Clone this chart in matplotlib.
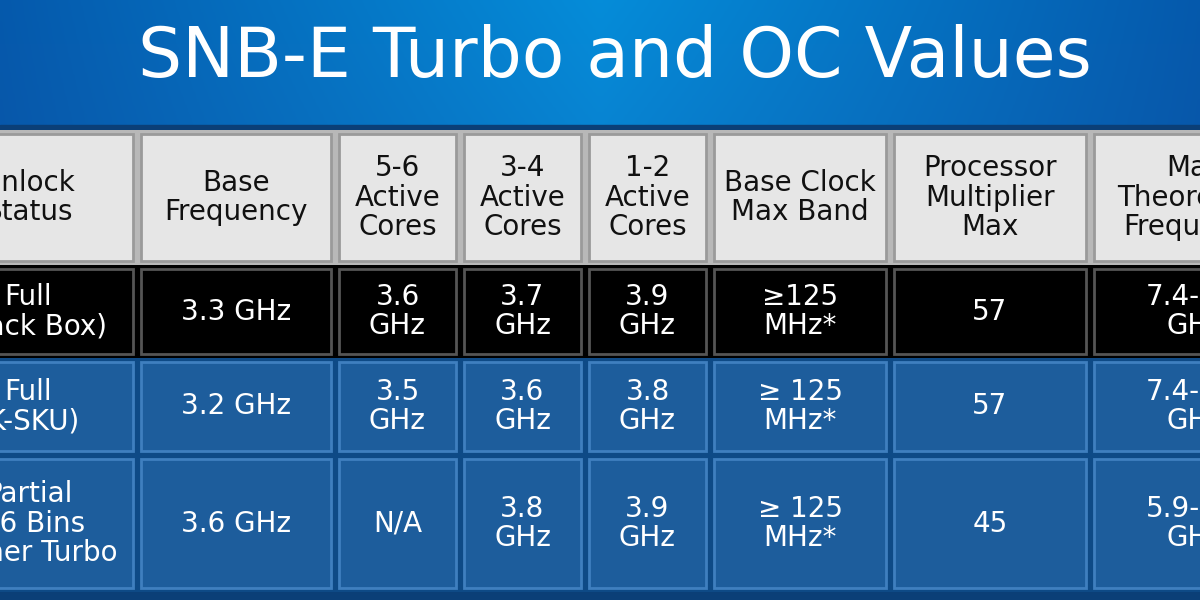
import matplotlib.pyplot as plt
import numpy as np

title = "SNB-E Turbo and OC Values"
headers = ["Unlock\nStatus", "Base\nFrequency", "5-6\nActive\nCores", "3-4\nActive\nCores",
           "1-2\nActive\nCores", "Base Clock\nMax Band", "Processor\nMultiplier\nMax",
           "Max\nTheoretical\nFrequency"]
rows = [
    ["Full\n(Black Box)", "3.3 GHz", "3.6\nGHz", "3.7\nGHz", "3.9\nGHz", "≥125\nMHz*", "57", "7.4-9.3\nGHz"],
    ["Full\n(K-SKU)", "3.2 GHz", "3.5\nGHz", "3.6\nGHz", "3.8\nGHz", "≥ 125\nMHz*", "57", "7.4-9.3\nGHz"],
    ["Partial\n4-6 Bins\nHigher Turbo", "3.6 GHz", "N/A", "3.8\nGHz", "3.9\nGHz", "≥ 125\nMHz*", "45", "5.9-7.4\nGHz"],
]
col_edges = [-80, 137, 335, 460, 585, 710, 890, 1090, 1300]
row_edges = [130, 265, 358, 455, 592]
row_colors = ["#000000", "#1d5d9c", "#1d5d9c"]

fig = plt.figure(figsize=(12, 6), dpi=100)
ax = fig.add_axes([0, 0, 1, 1])
ax.set_xlim(0, 1200)
ax.set_ylim(600, 0)
ax.axis("off")

# background gradient
gy = np.linspace(0, 1, 200)[:, None]
gx = np.linspace(0, 1, 300)[None, :]
r = 0.02 + 0.05 * gy
g = 0.30 + 0.25 * (1 - np.abs(gx - 0.5) * 1.6) * (1 - gy * 0.6)
b = 0.60 + 0.25 * (1 - np.abs(gx - 0.5) * 1.4) * (1 - gy * 0.5)
img = np.clip(np.dstack([r + 0 * gx, g, b]), 0, 1)
ax.imshow(img, extent=[0, 1200, 600, 0], aspect="auto", zorder=0)
ax.axhspan(125, 600, color="#0b3f77", zorder=0.5)

ax.text(615, 57, title, color="white", fontsize=50,
        ha="center", va="center", family="DejaVu Sans")

def cell(x0, x1, y0, y1, face, edge, pad=4):
    ax.add_patch(plt.Rectangle((x0 + pad, y0 + pad), x1 - x0 - 2 * pad, y1 - y0 - 2 * pad,
                               facecolor=face, edgecolor=edge, linewidth=2, zorder=2))

# header
ax.add_patch(plt.Rectangle((0, row_edges[0]), 1200, row_edges[1] - row_edges[0],
                           facecolor="#b8b8b8", zorder=1))
for i, h in enumerate(headers):
    x0, x1 = col_edges[i], col_edges[i + 1]
    cell(x0, x1, row_edges[0], row_edges[1], "#e6e6e6", "#9a9a9a")
    ax.text((x0 + x1) / 2, (row_edges[0] + row_edges[1]) / 2, h, ha="center", va="center",
            fontsize=20, color="#111111", linespacing=1.05, zorder=3, clip_on=True)

for ri, row in enumerate(rows):
    y0, y1 = row_edges[ri + 1], row_edges[ri + 2]
    bg = "#000000" if ri == 0 else "#0e4a86"
    ax.add_patch(plt.Rectangle((0, y0), 1200, y1 - y0, facecolor=bg, zorder=1))
    for i, v in enumerate(row):
        x0, x1 = col_edges[i], col_edges[i + 1]
        edge = "#555555" if ri == 0 else "#3f7fbf"
        cell(x0, x1, y0, y1, row_colors[ri], edge)
        ax.text((x0 + x1) / 2, (y0 + y1) / 2, v, ha="center", va="center",
                fontsize=20, color="white", linespacing=1.05, zorder=3, clip_on=True)

fig.savefig("out.png", dpi=100)
